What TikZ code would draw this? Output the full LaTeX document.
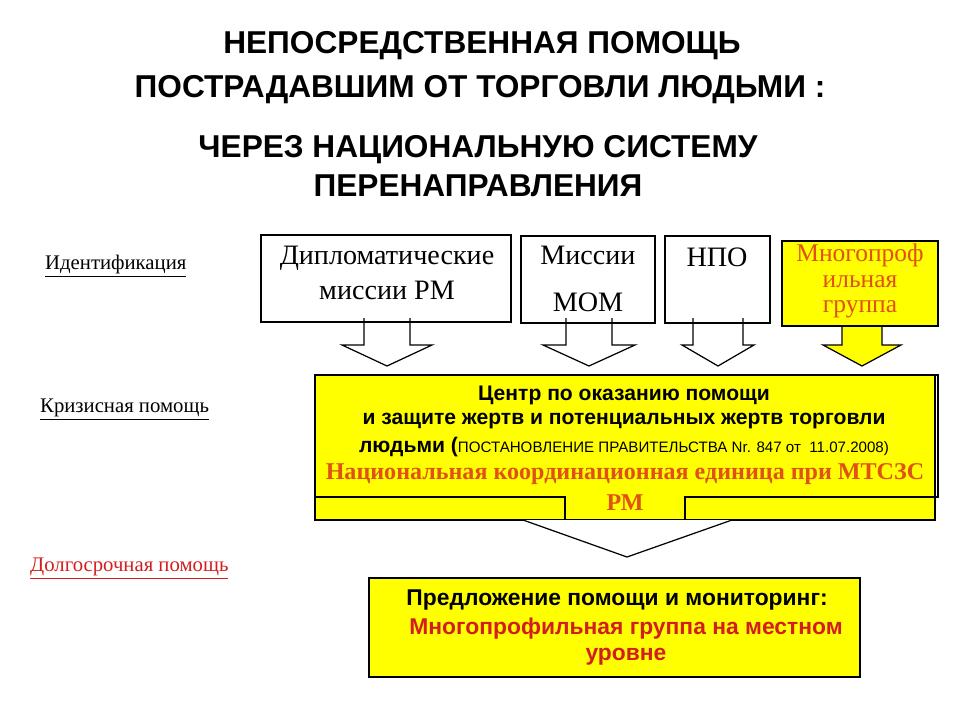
\documentclass[tikz,border=0pt]{standalone}
\usepackage{fontspec}
\setmainfont{Liberation Serif}
\newfontfamily\arial{Liberation Sans}
\usetikzlibrary{calc}
\definecolor{ylw}{RGB}{255,255,0}
\definecolor{org}{RGB}{225,80,20}
\definecolor{rd}{RGB}{210,30,30}
\tikzset{box/.style={draw,line width=0.7pt},
 arr/.style={draw,fill=white,line width=0.7pt},
 ttl/.style={font=\arial\bfseries\fontsize{18}{20}\selectfont},
 lbl/.style={font=\fontsize{11.8}{13}\selectfont,anchor=west}}
\begin{document}
\begin{tikzpicture}[x=0.02cm,y=-0.02cm]
\useasboundingbox (0,0) rectangle (960,720);
\node[ttl] (t1) at (482,46) {НЕПОСРЕДСТВЕННАЯ ПОМОЩЬ};
\node[ttl] (t2) at (480,90) {ПОСТРАДАВШИМ ОТ ТОРГОВЛИ ЛЮДЬМИ :};
\node[ttl] (t3) at (478,150) {ЧЕРЕЗ НАЦИОНАЛЬНУЮ СИСТЕМУ};
\node[ttl] (t4) at (478,186) {ПЕРЕНАПРАВЛЕНИЯ};
\node[lbl] (l1) at (39,266) {\underline{Идентификация}};
\node[lbl] (l2) at (34,410) {\underline{Кризисная помощь}};
\node[lbl,text=rd] (l3) at (24,569) {\underline{Долгосрочная помощь}};
% arrows
\foreach \c/\sw/\hw/\f in {387/23/45/white,589/23/46/white,718/25/36/white,862/20/39/ylw}{
 \draw[arr,fill=\f] (\c-\sw,318) -- (\c-\sw,345) -- (\c-\hw,345) -- (\c,366) -- (\c+\hw,345) -- (\c+\sw,345) -- (\c+\sw,318);}
\draw[box] (261,235) rectangle (511,322);
\node[font=\fontsize{16}{19.5}\selectfont,align=center] (b1) at (387,273) {Дипломатические\\миссии РМ};
\draw[box] (521,236) rectangle (655,323);
\node[font=\fontsize{16}{19}\selectfont] (b2a) at (588,255) {Миссии};
\node[font=\fontsize{16}{19}\selectfont] (b2b) at (588,302) {МОМ};
\draw[box] (665,236) rectangle (770,323);
\node[font=\fontsize{16}{19}\selectfont] (b3) at (717,257) {НПО};
\draw[box,fill=ylw,draw=black] (782,241) rectangle (938,326);
\node[font=\fontsize{14.5}{14.5}\selectfont,text=org,align=center] (b4) at (860,281) {Многопроф\\ильная\\группа};
% center callout
\draw[box,fill=ylw] (315,375) rectangle (935,520);
\draw[box] (935,375) -- (938,375) -- (938,497) -- (935,497);
\draw[line width=0.7pt] (315,497) -- (565,497) -- (565,520);
\draw[line width=0.7pt] (935,497) -- (685,497) -- (685,520);
\draw[arr] (523,520) -- (627,557) -- (732,520);
\node[font=\arial\bfseries\fontsize{12}{14}\selectfont] (c1) at (624,395) {Центр по оказанию помощи};
\node[font=\arial\bfseries\fontsize{12}{14}\selectfont] (c2) at (624,421) {и защите жертв и потенциальных жертв торговли};
\node[font=\arial\bfseries\fontsize{12}{14}\selectfont] (c3) at (624,447) {людьми (\mdseries\fontsize{8.6}{10}\selectfont ПОСТАНОВЛЕНИЕ ПРАВИТЕЛЬСТВА Nr. 847 от \ 11.07.2008)};
\node[font=\bfseries\fontsize{13.7}{16}\selectfont,text=org] (c4) at (625,474) {Национальная координационная единица при МТСЗС};
\node[font=\bfseries\fontsize{13.7}{16}\selectfont,text=org] (c5) at (625,503) {РМ};
% bottom
\draw[box,fill=ylw] (369,578) rectangle (860,677);
\node[font=\arial\bfseries\fontsize{13}{15}\selectfont] (d1) at (617,600) {Предложение помощи и мониторинг:};
\node[font=\arial\bfseries\fontsize{13}{15}\selectfont,text=rd] (d2) at (626,629) {Многопрофильная группа на местном};
\node[font=\arial\bfseries\fontsize{13}{15}\selectfont,text=rd] (d3) at (626,657) {уровне};
\end{tikzpicture}
\end{document}
